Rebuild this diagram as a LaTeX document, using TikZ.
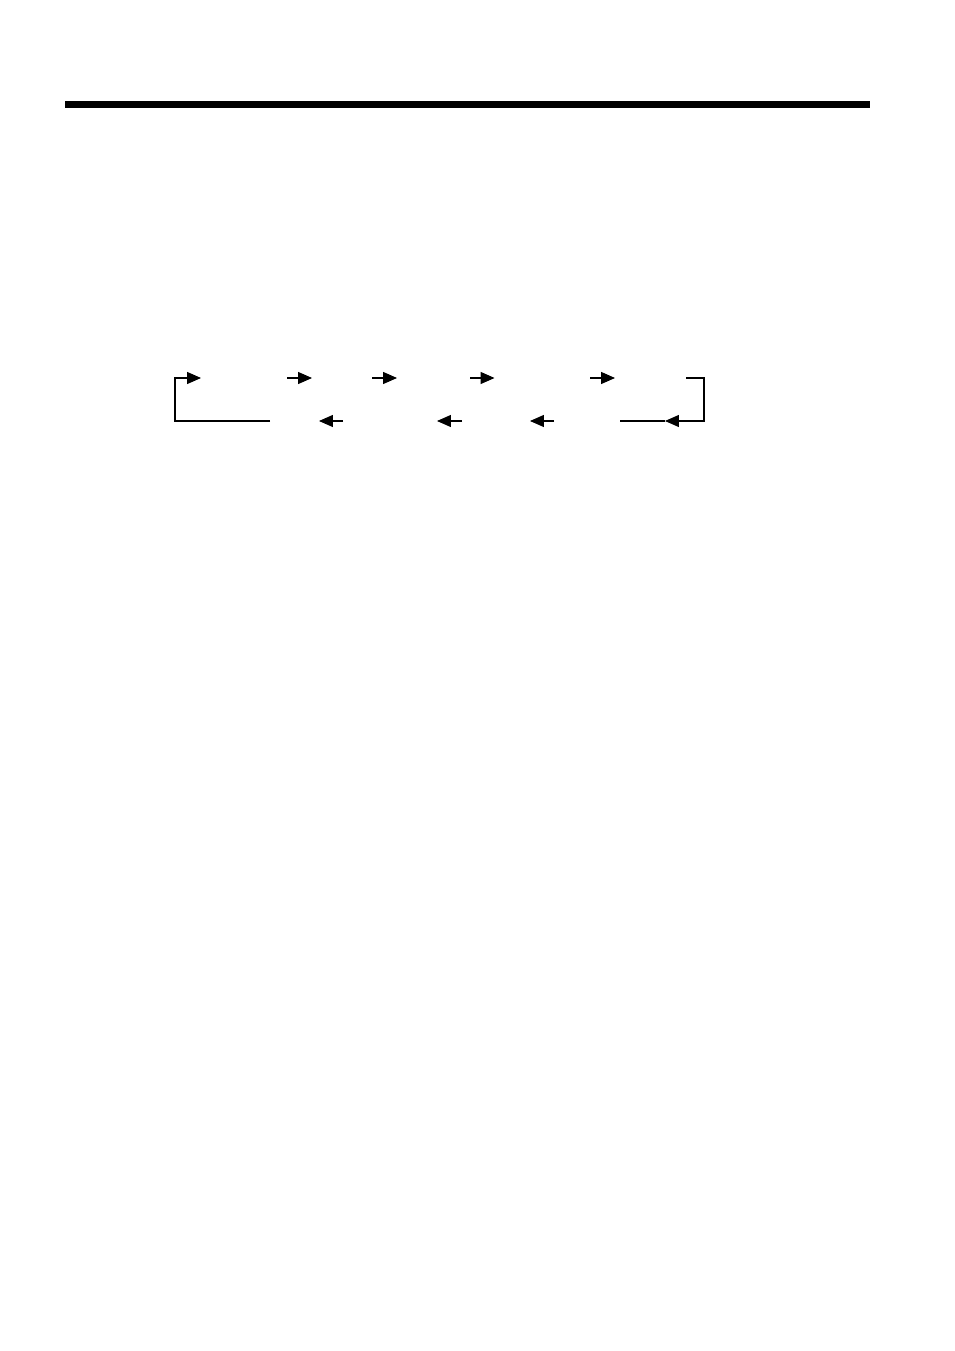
\documentclass[tikz,border=0pt]{standalone}
\usetikzlibrary{arrows.meta}

\begin{document}
\begin{tikzpicture}[x=0.6237pt,y=-0.6237pt,
  flow/.style={line width=0.7pt, -{Triangle[length=8.7pt,width=7.5pt]}},
  link/.style={line width=0.7pt}]
\useasboundingbox (0,0) rectangle (954,1351);
% rule at the head of the page
\coordinate (ruleL) at (65,104.5);
\coordinate (ruleR) at (870,104.5);
\draw[line width=4.6pt] (ruleL) -- (ruleR);
% upper row
\foreach \tail/\tip [count=\i] in {287/312, 372/397, 470/494.5, 590/615}{
  \coordinate (up\i a) at (\tail,378);
  \coordinate (up\i b) at (\tip,378);
  \draw[flow] (up\i a) -- (up\i b);
}
% lower row
\foreach \tail/\tip [count=\i] in {343/319, 462/437, 554/530}{
  \coordinate (lo\i a) at (\tail,421);
  \coordinate (lo\i b) at (\tip,421);
  \draw[flow] (lo\i a) -- (lo\i b);
}
% return on the left
\coordinate (backL) at (270,421);
\coordinate (backT) at (201,378);
\draw[flow] (backL) -| (175,378) -- (backT);
% turn on the right
\coordinate (turnT) at (686,378);
\coordinate (turnM) at (665,421);
\coordinate (turnB) at (620,421);
\draw[flow] (turnT) -| (704,421) -- (turnM);
\draw[link] (turnM) -- (turnB);
\end{tikzpicture}
\end{document}
